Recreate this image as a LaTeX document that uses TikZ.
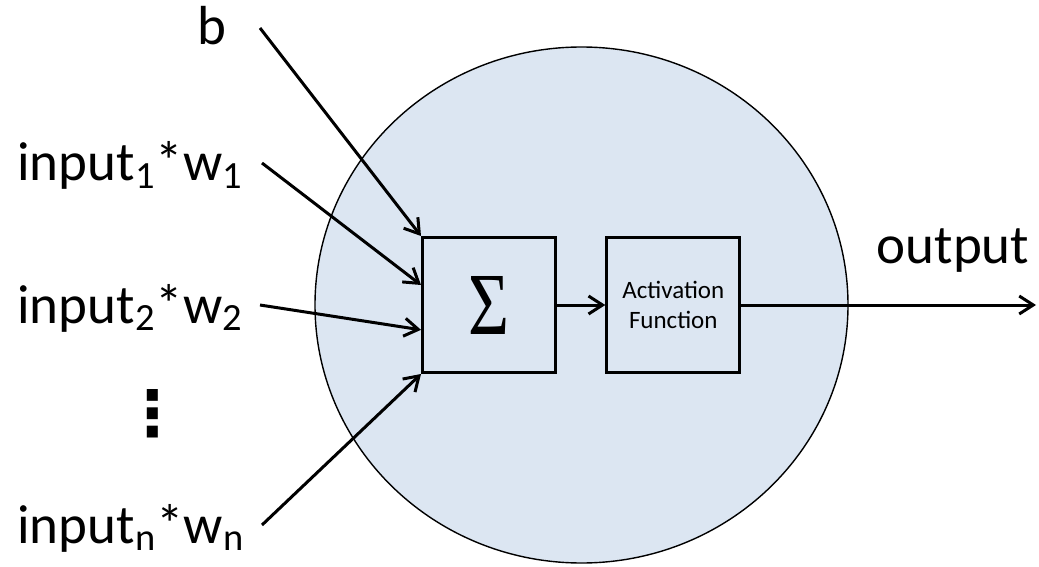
\documentclass[tikz,border=0pt]{standalone}
\usepackage{fontspec}
\usepackage{graphicx}
\setmainfont{Carlito}
\newfontfamily\sigmafont{Liberation Serif}
\newfontfamily\symfont{DejaVu Sans}
\usetikzlibrary{arrows.meta,calc,shapes.geometric}
\definecolor{cellfill}{RGB}{220,230,242}
\begin{document}
\begin{tikzpicture}[x=0.5pt,y=-0.5pt,
  lbl/.style={font=\fontsize{27.5pt}{33pt}\selectfont, inner sep=0pt, anchor=base west},
  unit/.style={draw, line width=1.5pt, minimum width=66.5pt, minimum height=67.5pt, inner sep=0pt},
  flow/.style={line width=1.5pt, -{Straight Barb[length=7pt,width=9pt]}},
]
\useasboundingbox (0,0) rectangle (1039,567);

% the neuron body
\node (cell) [ellipse, draw, line width=0.7pt, fill=cellfill, inner sep=0pt,
  minimum width=266.5pt, minimum height=258pt] at (581.5,305) {};

% summation and activation stages
\node (sum) [unit] at (489,305) {\resizebox{20.5pt}{29pt}{\sigmafont Σ}\hspace{11pt}};
\node (act) [unit, align=center, font=\fontsize{12.5pt}{15pt}\selectfont] at (673.3,305) {Activation\\Function};

% input labels
\node (bias) [lbl] at (197,45) {b};
\node (in1) [lbl] at (17,181) {input\textsubscript{1}*w\textsubscript{1}};
\node (in2) [lbl] at (17,323) {input\textsubscript{2}*w\textsubscript{2}};
\node (vdots) [inner sep=0pt] at (153,413.5) {\resizebox{!}{23pt}{\symfont\bfseries ⋮}};
\node (inn) [lbl] at (17,543) {input\textsubscript{n}*w\textsubscript{n}};
\node (outlbl) [lbl, anchor=base] at (953,263) {output};

% connector start points beside the labels
\coordinate (bias-src) at (260,28);
\coordinate (in1-src) at (262,163);
\coordinate (in2-src) at (260,305);
\coordinate (inn-src) at (262,525);
\coordinate (out-end) at (1036,305);

% connectors
\draw[flow] (bias-src) -- (sum.north west);
\draw[flow] (in1-src) -- ($(sum.north west)!0.355!(sum.south west)$);
\draw[flow] (in2-src) -- ($(sum.north west)!0.68!(sum.south west)$);
\draw[flow] (inn-src) -- (sum.south west);
\draw[flow] (sum) -- (act);
\draw[flow] (act) -- (out-end);
\end{tikzpicture}
\end{document}
